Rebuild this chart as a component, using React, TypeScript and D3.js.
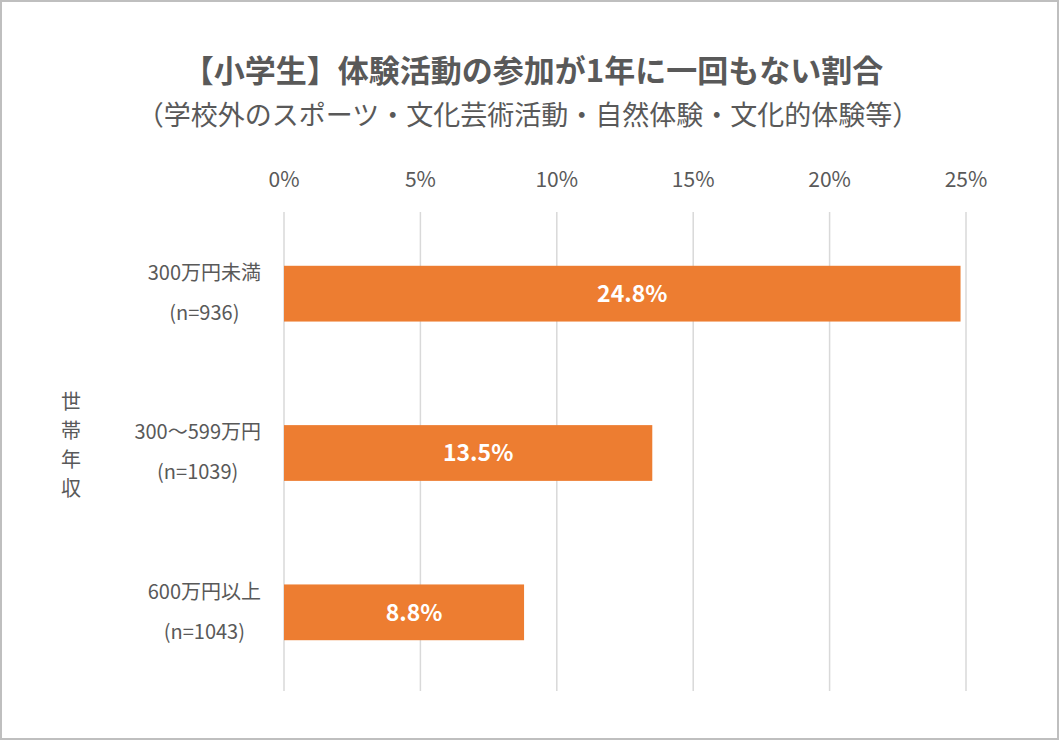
import React, { useLayoutEffect, useRef, useState } from "react";
import * as d3 from "d3";

const categories = ["300万円未満", "300〜599万円", "600万円以上"];
const samples = ["(n=936)", "(n=1039)", "(n=1043)"];
const values = [24.8, 13.5, 8.8];
const ticks = [0, 5, 10, 15, 20, 25];
const title = "【小学生】体験活動の参加が1年に一回もない割合";
const subtitle = "（学校外のスポーツ・文化芸術活動・自然体験・文化的体験等）";
const axisTitle = ["世", "帯", "年", "収"];

const W = 1059;
const H = 740;
const FONT = "'Noto Sans CJK JP', 'Noto Sans', sans-serif";
const TEXT = "#595959";

export default function App() {
  const x = d3.scaleLinear().domain([0, 25]).range([284, 966]);
  const y = d3.scaleBand<string>().domain(categories).range([214, 692]).paddingInner(0.65).paddingOuter(0.325);
  const refs = useRef<(SVGTextElement | null)[]>([]);
  const [widths, setWidths] = useState<number[]>(categories.map(() => 110));
  useLayoutEffect(() => {
    const w = categories.map((_, i) => {
      const a = refs.current[i * 2];
      const b = refs.current[i * 2 + 1];
      return Math.max(a ? a.getComputedTextLength() : 0, b ? b.getComputedTextLength() : 0);
    });
    setWidths(w);
  }, []);
  const labelRight = 261;
  return (
    <div style={{ position: "fixed", left: 0, top: 0 }}>
      <svg width={W} height={H} style={{ display: "block", fontFamily: FONT }}>
        <rect x={1} y={1} width={W - 2} height={H - 2} fill="#fff" stroke="#bfbfbf" strokeWidth={2} />
        <text x={533} y={71} dy="0.36em" textAnchor="middle" fontSize={31} fontWeight={700} fill={TEXT}>{title}</text>
        <text x={528} y={115} dy="0.36em" textAnchor="middle" fontSize={27} fill={TEXT}>{subtitle}</text>
        {ticks.map((t) => (
          <g key={t}>
            <line x1={x(t)} x2={x(t)} y1={212} y2={691} stroke="#d9d9d9" strokeWidth={1.5} />
            <text x={x(t)} y={180} dy="0.35em" textAnchor="middle" fontSize={21} fill={TEXT}>{t}%</text>
          </g>
        ))}
        {categories.map((c, i) => {
          const y0 = y(c)!;
          const bh = y.bandwidth();
          const cy = y0 + bh / 2;
          const lx = labelRight - widths[i] / 2;
          return (
            <g key={c}>
              <rect x={x(0)} y={y0} width={x(values[i]) - x(0)} height={bh} fill="#ED7D31" />
              <text x={(x(0) + x(values[i])) / 2 + 10} y={cy} dy="0.36em" textAnchor="middle" fontSize={23} fontWeight={700} fill="#fff">{values[i].toFixed(1)}%</text>
              <text ref={(el) => { refs.current[i * 2] = el; }} x={lx} y={cy - 21} dy="0.36em" textAnchor="middle" fontSize={20} fill={TEXT}>{c}</text>
              <text ref={(el) => { refs.current[i * 2 + 1] = el; }} x={lx} y={cy + 19} dy="0.36em" textAnchor="middle" fontSize={20} fill={TEXT}>{samples[i]}</text>
            </g>
          );
        })}
        {axisTitle.map((ch, i) => (
          <text key={i} x={71} y={402 + i * 29} dy="0.36em" textAnchor="middle" fontSize={20} fill={TEXT}>{ch}</text>
        ))}
      </svg>
    </div>
  );
}
